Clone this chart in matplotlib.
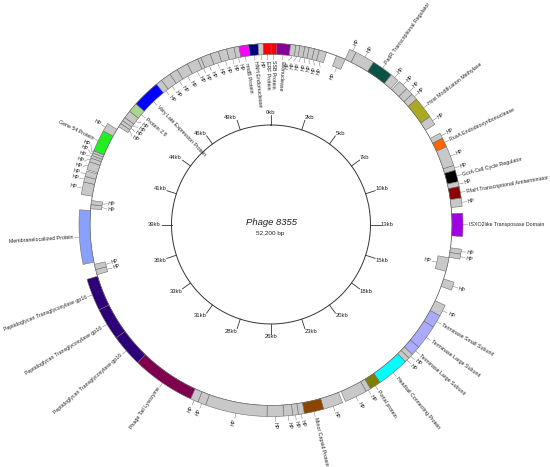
import math
import matplotlib
matplotlib.use("Agg")
import matplotlib.pyplot as plt
from matplotlib.patches import Polygon

plt.rcParams['font.family'] = ['Liberation Sans', 'DejaVu Sans']

# ---------------- data ----------------
GENOME_LENGTH = 52200
genome_name = "Phage 8355"
genome_size_label = "52,200 bp"

tick_labels = ["0kb", "2kb", "5kb", "7kb", "10kb", "13kb", "15kb", "18kb", "20kb", "23kb",
               "26kb", "28kb", "31kb", "33kb", "36kb", "39kb", "41kb", "44kb", "46kb", "49kb"]
tick_positions = [0, 2610, 5220, 7830, 10440, 13050, 15660, 18270, 20880, 23490,
                  26100, 28710, 31320, 33930, 36540, 39150, 41760, 44370, 46980, 49590]

GP16 = "Peptidoglycan Transglycosylase gp16"
gene_names = [
    "SSB Protein", "Exonuclease", "HP", "HP", "HP", "HP", "HP", "HP", "HP",
    "HP", "HP", "HP", "PadR Transcriptional Regulator", "HP", "HP", "HP", "HP",
    "Host Modification Methylase", "HP", "HP", "RusA Endodeoxyribonuclease", "HP", "HP",
    "GcrA Cell Cycle Regulator", "HP", "RfaH Transcriptional Antiterminator", "HP",
    "ISXO2like Transposase Domain", "HP", "HP", "HP", "HP", "HP",
    "Terminase Small Subunit", "Terminase Large Subunit", "Terminase Large Subunit",
    "HP", "HP", "Headtail Connecting Protein", "Portal protein", "HP", "HP", "HP",
    "Minor Capsid Protein", "HP", "HP", "HP", "HP", "HP", "HP", "HP",
    "Phage Tail Lysozyme", GP16, GP16, GP16, "HP", "HP", "Membranelocalized Protein",
    "HP", "HP", "HP", "HP", "HP", "HP", "HP", "HP", "HP", "HP",
    "Gene 54 Protein", "HP", "HP", "HP", "HP", "HP", "Protein 2.8",
    "Very Late Expression Protein",
    "HP", "HP", "HP", "HP", "HP", "HP", "HP", "HP", "HP", "HP", "HP",
    "mtdB Protein", "HNH Endonuclease", "HP", "ERF Protein",
]
gene_starts = [
    0, 276, 899, 1146, 1334, 1566, 1769, 2016, 2248,
    3074, 3509, 3814, 4684, 5626, 6076, 6525, 6859,
    7149, 8106, 8932, 9179, 9585, 10455,
    10672, 11180, 11397, 11905,
    12557, 14123, 14341, 14587, 15588, 16661,
    17168, 17734, 18807,
    19227, 19445, 19662, 21083, 21576, 21794, 22925,
    23795, 24650, 24911, 25158, 25549, 26274, 28986, 29348,
    29696, 32480, 33901, 35322, 36816, 37062, 37410,
    39875, 40064, 40455, 41006, 41253, 41557, 41920, 42094, 42210, 42326,
    42427, 43384, 43892, 44066, 44225, 44399, 44762,
    45211,
    46516, 46806, 47285, 47676, 48213, 48735, 48894, 49358, 49750, 50141, 50489,
    50721, 51171, 51606, 51838,
]
gene_ends = [
    276, 899, 1146, 1334, 1566, 1769, 2016, 2248, 2596,
    3509, 3814, 4684, 5626, 6003, 6525, 6859, 7149,
    8106, 8497, 9179, 9585, 10455, 10672,
    11180, 11397, 11905, 12267,
    13572, 14341, 14558, 15225, 15950, 17168,
    17734, 18807, 19227,
    19445, 19662, 21083, 21576, 21794, 22794, 23795,
    24650, 24911, 25158, 25549, 26274, 28986, 29348, 29696,
    32480, 33901, 35322, 36743, 37062, 37309, 39788,
    40064, 40252, 41006, 41253, 41499, 41920, 42094, 42210, 42326, 42427,
    43384, 43747, 44066, 44225, 44399, 44762, 45211,
    46516,
    46806, 47285, 47676, 48213, 48735, 48894, 49358, 49750, 50141, 50489, 50721,
    51171, 51606, 51838, 52200,
]
gene_strands = [
    -1, -1, -1, -1, -1, -1, -1, -1, -1,
    -1, 1, 1, 1, 1, 1, 1, 1,
    1, 1, 1, 1, 1, 1,
    1, 1, 1, 1,
    1, 1, 1, -1, 1, 1,
    1, 1, 1,
    1, 1, 1, 1, 1, 1, 1,
    1, 1, 1, 1, 1, 1, 1, 1,
    1, 1, 1, 1, -1, -1, 1,
    -1, -1, 1, 1, 1, 1, 1, 1, 1, 1,
    1, 1, -1, -1, -1, -1, -1,
    -1,
    -1, -1, -1, -1, -1, -1, -1, -1, -1, -1, -1,
    -1, -1, -1, -1,
]
GRAY = "#C8C8C8"
gene_colors = [
    "#FF0000", "#880099", GRAY, GRAY, GRAY, GRAY, GRAY, GRAY, GRAY,
    GRAY, GRAY, GRAY, "#0A5246", GRAY, GRAY, GRAY, GRAY,
    "#AAAA22", GRAY, GRAY, "#FF6600", GRAY, GRAY,
    "#000000", GRAY, "#8B0000", GRAY,
    "#A000E6", GRAY, GRAY, GRAY, GRAY, GRAY,
    "#AAAAFF", "#AAAAFF", "#AAAAFF",
    GRAY, GRAY, "#00FFFF", "#808000", GRAY, GRAY, GRAY,
    "#8B4500", GRAY, GRAY, GRAY, GRAY, GRAY, GRAY, GRAY,
    "#800050", "#2D0078", "#2D0078", "#2D0078", GRAY, GRAY, "#8AA0FF",
    GRAY, GRAY, GRAY, GRAY, GRAY, GRAY, GRAY, GRAY, GRAY, GRAY,
    "#22EE22", GRAY, GRAY, GRAY, GRAY, GRAY, "#AAD78C",
    "#0000FF",
    GRAY, GRAY, GRAY, GRAY, GRAY, GRAY, GRAY, GRAY, GRAY, GRAY, GRAY,
    "#FF00FF", "#000080", GRAY, "#FF0000",
]

# ---------------- geometry ----------------
W, H = 550, 467
CX, CY = 271.0, 224.5
R_CIRCLE = 99.5
R_BACKBONE = 181.0
TRACKS = {1: (181.0, 192.0), -1: (170.0, 181.0)}


def deg_of(bp):
    return bp / GENOME_LENGTH * 360.0


def pt(r, deg):
    t = math.radians(deg)
    return CX + r * math.sin(t), CY - r * math.cos(t)


fig = plt.figure(figsize=(W / 100, H / 100), dpi=100)
ax = fig.add_axes([0, 0, 1, 1])
ax.set_xlim(0, W)
ax.set_ylim(H, 0)
ax.axis("off")

# backbone
bb = [pt(R_BACKBONE, a / 4.0) for a in range(0, 1441)]
ax.plot([p[0] for p in bb], [p[1] for p in bb], color="#444444", lw=0.5, zorder=1)

# inner circle with ticks
ic = [pt(R_CIRCLE, a / 4.0) for a in range(0, 1441)]
ax.plot([p[0] for p in ic], [p[1] for p in ic], color="#333333", lw=0.7, zorder=1)
for pos, lab in zip(tick_positions, tick_labels):
    d = deg_of(pos)
    x0, y0 = pt(R_CIRCLE, d)
    x1, y1 = pt(R_CIRCLE + 10, d)
    ax.plot([x0, x1], [y0, y1], color="#333333", lw=0.6, zorder=1)
    s, c = math.sin(math.radians(d)), math.cos(math.radians(d))
    ha = "left" if s > 0.25 else ("right" if s < -0.25 else "center")
    va = "bottom" if c > 0.25 else ("top" if c < -0.25 else "center")
    tx, ty = pt(R_CIRCLE + 10.5, d)
    ax.text(tx, ty, lab, fontsize=4.2, ha=ha, va=va, color="#222222")

ax.text(CX, CY - 2, genome_name, fontsize=6.8, style="italic", ha="center", va="center", color="#222222")
ax.text(CX - 1, CY + 8.5, genome_size_label, fontsize=4.6, ha="center", va="center", color="#222222")

# genes
mids = []
for name, s, e, st, col in zip(gene_names, gene_starts, gene_ends, gene_strands, gene_colors):
    a0, a1 = deg_of(s), deg_of(e)
    r0, r1 = TRACKS[st]
    n = max(2, int((a1 - a0) / 0.4) + 2)
    angs = [a0 + (a1 - a0) * i / (n - 1) for i in range(n)]
    poly = [pt(r1, a) for a in angs] + [pt(r0, a) for a in reversed(angs)]
    ax.add_patch(Polygon(poly, closed=True, facecolor=col, edgecolor="#6E6E6E", lw=0.4, zorder=3))
    mids.append((a0 + a1) / 2.0)


def spread(angles, min_sep):
    out = list(angles)
    for _ in range(400):
        moved = False
        for i in range(len(out) - 1):
            diff = out[i + 1] - out[i]
            if diff < min_sep:
                push = (min_sep - diff) / 2.0
                out[i] -= push
                out[i + 1] += push
                moved = True
        if not moved:
            break
    return out


for st in (1, -1):
    idx = [i for i in range(len(gene_names)) if gene_strands[i] == st]
    # shift so that the sort breaks at the bottom (180 deg) for the inner track
    key = (lambda a: (a - 180) % 360) if st == -1 else (lambda a: a % 360)
    idx.sort(key=lambda i: key(mids[i]))
    base = [key(mids[i]) for i in idx]
    lab = spread(base, 1.75 if st == 1 else 1.9)
    back = (lambda a: (a + 180) % 360) if st == -1 else (lambda a: a)
    r_edge = TRACKS[st][1] if st == 1 else TRACKS[st][0]
    sign = 1 if st == 1 else -1
    for i, la in zip(idx, lab):
        gm = mids[i]
        la = back(la)
        p0 = pt(r_edge, gm)
        p1 = pt(r_edge + sign * 2.0, gm)
        p2 = pt(r_edge + sign * 5.0, la)
        ax.plot([p0[0], p1[0], p2[0]], [p0[1], p1[1], p2[1]], color="#666666", lw=0.3, zorder=2)
        tx, ty = pt(r_edge + sign * 6.0, la)
        t = math.radians(la)
        dvec = math.degrees(math.atan2(math.cos(t), math.sin(t)))
        if st == -1:
            dvec += 180.0
        dvec = (dvec + 180.0) % 360.0 - 180.0
        if -95.0 <= dvec <= 95.0:
            rot, ha = dvec, "left"
        else:
            rot, ha = (dvec + 360.0) % 360.0 - 180.0, "right"
        ax.text(tx, ty, gene_names[i], fontsize=3.8, rotation=rot, rotation_mode="anchor",
                ha=ha, va="center", color="#222222", zorder=4)

fig.savefig("out.png", dpi=100)
